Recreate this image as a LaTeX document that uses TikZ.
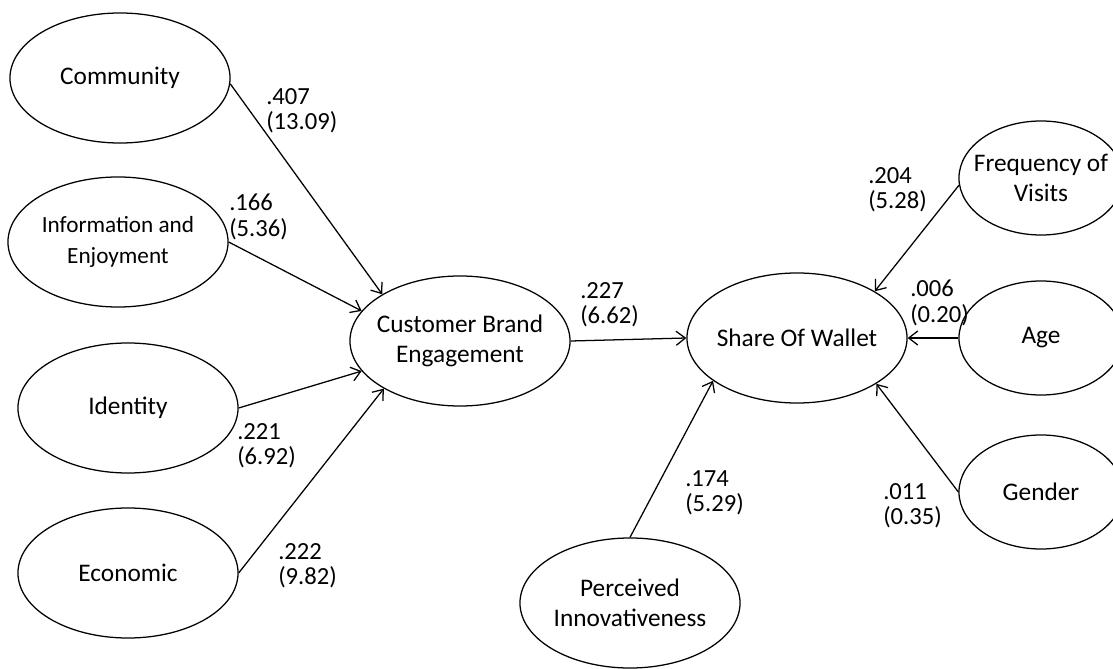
\documentclass[tikz,border=0pt]{standalone}
\usepackage{fontspec}
\setmainfont{Carlito}
\usetikzlibrary{shapes.geometric, arrows.meta}
\tikzset{
    construct/.style={draw, ellipse, line width=0.9pt, inner sep=0pt, inner xsep=-8pt, minimum width=5.5cm, minimum height=3.25cm, align=center, font=\fontsize{18}{21.5}\selectfont},
    control/.style={construct, minimum width=4.1cm, minimum height=2.85cm},
    coef/.style={anchor=north west, inner sep=0pt, align=left, font=\fontsize{17.5}{18}\selectfont},
    effect/.style={-{Straight Barb[length=6.5pt,width=10pt]}, line width=0.9pt}
}

\begin{document}
\begin{tikzpicture}[x=0.025cm, y=-0.025cm]
            \useasboundingbox (0,0) rectangle (1113,669);
            \node[construct] (comm) at (120,78) {Community};
            \node[construct, font=\fontsize{16.5}{21.5}\selectfont] (info) at (118,242) {Information and\\Enjoyment};
            \node[construct] (iden) at (128,408) {Identity};
            \node[construct] (econ) at (128,573) {Economic};
            \node[construct] (cbe) at (460,341) {Customer Brand\\Engagement};
            \node[construct] (sow) at (797,338) {Share Of Wallet};
            \node[construct] (pi) at (630,603) {Perceived\\Innovativeness};
            \node[control] (freq) at (1041,178) {Frequency of\\Visits};
            \node[control] (age) at (1041,338) {Age};
            \node[control] (gend) at (1041,492) {Gender};
            \draw[effect] (comm.-3) -- (cbe.149);
            \draw[effect] (info.east) -- (cbe.163);
            \draw[effect] (iden.east) -- (cbe.197);
            \draw[effect] (econ.east) -- (cbe.212);
            \draw[effect] (cbe.east) -- (sow.west);
            \draw[effect] (pi.north) -- (sow.207);
            \draw[effect] (freq.185) -- (sow.31);
            \draw[effect] (age.west) -- (sow.east);
            \draw[effect] (gend.west) -- (sow.-30);
            \node[coef] (c1) at (266,88) {.407\\(13.09)};
            \node[coef] (c2) at (229,194) {.166\\(5.36)};
            \node[coef] (c3) at (237,423) {.221\\(6.92)};
            \node[coef] (c4) at (278,543) {.222\\(9.82)};
            \node[coef] (c5) at (580,282) {.227\\(6.62)};
            \node[coef] (c6) at (685,470) {.174\\(5.29)};
            \node[coef] (c7) at (868,167) {.204\\(5.28)};
            \node[coef] (c8) at (910,280) {.006\\(0.20)};
            \node[coef] (c9) at (883,483) {.011\\(0.35)};
        \end{tikzpicture}
\end{document}
